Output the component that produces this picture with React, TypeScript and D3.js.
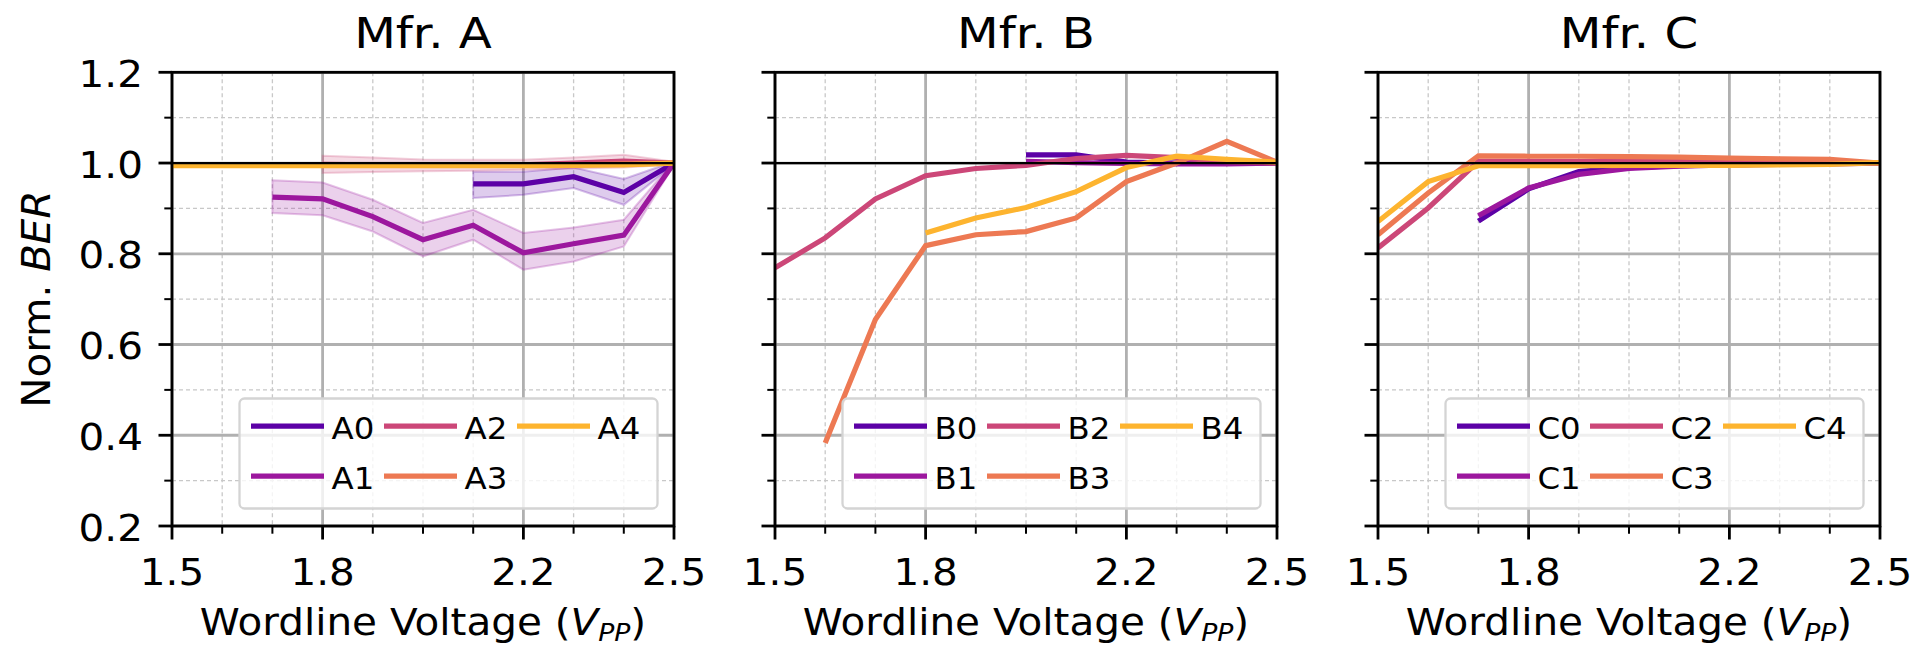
import React from 'react';
import * as d3 from 'd3';

// ---------- data ----------
const volts = [1.5, 1.6, 1.7, 1.8, 1.9, 2.0, 2.1, 2.2, 2.3, 2.4, 2.5];
const majorX = [1.5, 1.8, 2.2, 2.5];
const xTickLabels = ['1.5', '1.8', '2.2', '2.5'];
const minorX = [1.6, 1.7, 1.9, 2.0, 2.1, 2.3, 2.4];
const majorY = [0.2, 0.4, 0.6, 0.8, 1.0, 1.2];
const yTickLabels = ['0.2', '0.4', '0.6', '0.8', '1.0', '1.2'];
const minorY = [0.3, 0.5, 0.7, 0.9, 1.1];
const panelTitles = ['Mfr. A', 'Mfr. B', 'Mfr. C'];
const namesA = ['A0', 'A1', 'A2', 'A3', 'A4'];
const namesB = ['B0', 'B1', 'B2', 'B3', 'B4'];
const namesC = ['C0', 'C1', 'C2', 'C3', 'C4'];

type V = number | null;
const A0: V[] = [null, null, null, null, null, null, 0.954, 0.954, 0.970, 0.935, 1.0];
const A1: V[] = [null, null, 0.925, 0.921, 0.882, 0.831, 0.863, 0.802, 0.822, 0.841, 1.0];
const A2: V[] = [null, null, null, 0.997, 0.996, 0.995, 0.995, 0.996, 1.0, 1.004, 1.0];
const A3: V[] = [0.995, 0.995, 0.995, 0.995, 0.995, 0.995, 0.995, 0.995, 0.996, 0.998, 1.0];
const A4: V[] = [0.994, 0.994, 0.994, 0.994, 0.994, 0.994, 0.994, 0.994, 0.995, 0.996, 1.0];

const A0lo: V[] = [null, null, null, null, null, null, 0.923, 0.930, 0.945, 0.908, 0.997];
const A0hi: V[] = [null, null, null, null, null, null, 0.981, 0.981, 0.990, 0.965, 1.003];
const A1lo: V[] = [null, null, 0.890, 0.885, 0.849, 0.794, 0.831, 0.765, 0.783, 0.816, 0.996];
const A1hi: V[] = [null, null, 0.962, 0.957, 0.919, 0.868, 0.897, 0.846, 0.858, 0.875, 1.004];
const A2lo: V[] = [null, null, null, 0.978, 0.980, 0.982, 0.983, 0.985, 0.988, 0.990, 0.997];
const A2hi: V[] = [null, null, null, 1.016, 1.012, 1.008, 1.007, 1.007, 1.012, 1.018, 1.003];

const B0: V[] = [null, null, null, null, null, 1.018, 1.018, 1.002, 1.0, 1.0, 1.0];
const B1: V[] = [null, null, null, null, null, 1.004, 1.001, 0.999, 0.998, 0.998, 1.0];
const B2: V[] = [0.769, 0.835, 0.921, 0.972, 0.988, 0.995, 1.010, 1.017, 1.012, 1.003, 1.0];
const B3: V[] = [null, 0.383, 0.655, 0.818, 0.842, 0.849, 0.879, 0.959, 1.0, 1.048, 1.002];
const B4: V[] = [null, null, null, 0.846, 0.879, 0.902, 0.937, 0.990, 1.015, 1.008, 1.002];

const C0: V[] = [null, null, 0.872, 0.943, 0.981, 0.990, 0.994, 0.996, 0.998, 0.999, 1.0];
const C1: V[] = [null, null, 0.884, 0.945, 0.975, 0.988, 0.993, 0.996, 0.997, 0.998, 1.0];
const C2: V[] = [0.813, 0.901, 1.004, 1.004, 1.003, 1.003, 1.003, 1.003, 1.002, 1.002, 1.0];
const C3: V[] = [0.842, 0.934, 1.016, 1.015, 1.015, 1.014, 1.013, 1.011, 1.009, 1.008, 1.0];
const C4: V[] = [0.871, 0.959, 0.994, 0.994, 0.994, 0.995, 0.995, 0.995, 0.996, 0.997, 1.001];

type Band = { idx: number; lo: V[]; hi: V[] };
const panels = [
  { title: panelTitles[0], names: namesA, series: [A0, A1, A2, A3, A4],
    bands: [{ idx: 0, lo: A0lo, hi: A0hi }, { idx: 1, lo: A1lo, hi: A1hi }, { idx: 2, lo: A2lo, hi: A2hi }] as Band[] },
  { title: panelTitles[1], names: namesB, series: [B0, B1, B2, B3, B4], bands: [] as Band[] },
  { title: panelTitles[2], names: namesC, series: [C0, C1, C2, C3, C4], bands: [] as Band[] },
];

// ---------- layout ----------
const W = 1915, H = 648;
const FONT = 'DejaVu Sans';
const SX = 1.11; // horizontal stretch of the reference glyphs
const plotTop = 72.3, plotBottom = 526, plotW = 502, firstLeft = 172, step = 603;
const colors = [1, 2, 3, 4, 5].map((k) => d3.interpolatePlasma(k / 6));

const y = d3.scaleLinear().domain([0.2, 1.2]).range([plotBottom, plotTop]);

function T({ x, y: yy, size, anchor = 'start', sx = SX, children }: { x: number; y: number; size: number; anchor?: string; sx?: number; children: React.ReactNode }) {
  return (
    <text transform={`translate(${x},${yy}) scale(${sx},1)`} textAnchor={anchor as any} fontFamily={FONT} fontSize={size} fill="#000">
      {children}
    </text>
  );
}

function Panel({ p, i }: { p: typeof panels[number]; i: number }) {
  const left = firstLeft + i * step;
  const right = left + plotW;
  const x = d3.scaleLinear().domain([1.5, 2.5]).range([left, right]);
  const mkLine = (vals: V[]) => {
    const pts = vals.map((v, j) => ({ v, j })).filter((d) => d.v !== null) as { v: number; j: number }[];
    return d3.line<{ v: number; j: number }>().x((d) => x(volts[d.j])).y((d) => y(d.v))(pts) || '';
  };
  const mkArea = (b: Band) => {
    const pts = b.lo.map((v, j) => ({ lo: v, hi: b.hi[j], j })).filter((d) => d.lo !== null) as { lo: number; hi: number; j: number }[];
    return d3.area<{ lo: number; hi: number; j: number }>().x((d) => x(volts[d.j])).y0((d) => y(d.lo)).y1((d) => y(d.hi))(pts) || '';
  };
  const cx = (left + right) / 2;
  const legW = 418, legH = 110;
  const legRight = right - 16.5;
  const legLeft = legRight - legW;
  const legTop = plotBottom - 17.5 - legH;
  const clipId = `clip${i}`;
  return (
    <g>
      <defs>
        <clipPath id={clipId}>
          <rect x={left} y={plotTop} width={plotW} height={plotBottom - plotTop} />
        </clipPath>
      </defs>
      {minorX.map((v) => (
        <line key={'mx' + v} x1={x(v)} x2={x(v)} y1={plotTop} y2={plotBottom} stroke="#c8c8c8" strokeWidth={1.3} strokeDasharray="4,3" />
      ))}
      {minorY.map((v) => (
        <line key={'my' + v} x1={left} x2={right} y1={y(v)} y2={y(v)} stroke="#c8c8c8" strokeWidth={1.3} strokeDasharray="4,3" />
      ))}
      {majorX.map((v) => (
        <line key={'Mx' + v} x1={x(v)} x2={x(v)} y1={plotTop} y2={plotBottom} stroke="#b0b0b0" strokeWidth={2.8} />
      ))}
      {majorY.map((v) => (
        <line key={'My' + v} x1={left} x2={right} y1={y(v)} y2={y(v)} stroke="#b0b0b0" strokeWidth={2.8} />
      ))}
      <g clipPath={`url(#${clipId})`}>
        {p.bands.map((b) => (
          <path key={'b' + b.idx} d={mkArea(b)} fill={colors[b.idx]} fillOpacity={0.2} stroke={colors[b.idx]} strokeOpacity={0.25} strokeWidth={2} />
        ))}
        {p.series.map((s, k) => (
          <path key={'s' + k} d={mkLine(s)} fill="none" stroke={colors[k]} strokeWidth={5.2} strokeLinejoin="miter" />
        ))}
        <line x1={left} x2={right} y1={y(1.0)} y2={y(1.0)} stroke="#000" strokeWidth={2.2} />
      </g>
      <rect x={legLeft} y={legTop} width={legW} height={legH} rx={5} ry={5} fill="#ffffff" fillOpacity={0.8} stroke="#d4d4d4" strokeWidth={2.3} />
      {p.names.map((n, k) => {
        const col = Math.floor(k / 2);
        const row = k % 2;
        const lx = legLeft + 11.5 + col * 133;
        const ly = legTop + 27.7 + row * 50;
        return (
          <g key={'lg' + n}>
            <line x1={lx} x2={lx + 73} y1={ly} y2={ly} stroke={colors[k]} strokeWidth={5.2} />
            <T x={lx + 80.5} y={ly + 12.3} size={30} sx={1.08}>{n}</T>
          </g>
        );
      })}
      <rect x={left} y={plotTop} width={plotW} height={plotBottom - plotTop} fill="none" stroke="#000" strokeWidth={2.8} />
      {majorX.map((v) => (
        <line key={'tx' + v} x1={x(v)} x2={x(v)} y1={plotBottom} y2={plotBottom + 13.5} stroke="#000" strokeWidth={2.8} />
      ))}
      {minorX.map((v) => (
        <line key={'tmx' + v} x1={x(v)} x2={x(v)} y1={plotBottom} y2={plotBottom + 7.7} stroke="#000" strokeWidth={2} />
      ))}
      {majorY.map((v) => (
        <line key={'ty' + v} x1={left - 13.5} x2={left} y1={y(v)} y2={y(v)} stroke="#000" strokeWidth={2.8} />
      ))}
      {minorY.map((v) => (
        <line key={'tmy' + v} x1={left - 7.7} x2={left} y1={y(v)} y2={y(v)} stroke="#000" strokeWidth={2} />
      ))}
      {majorX.map((v, k) => (
        <T key={'lx' + v} x={x(v)} y={585} size={36.5} anchor="middle">{xTickLabels[k]}</T>
      ))}
      {i === 0 && majorY.map((v, k) => (
        <T key={'ly' + v} x={143} y={y(v) + 14.5} size={36.5} anchor="end">{yTickLabels[k]}</T>
      ))}
      <T x={cx} y={48.3} size={43.5} anchor="middle">{p.title}</T>
      <T x={cx} y={635} size={36.5} anchor="middle">
        Wordline Voltage (<tspan fontStyle="italic">V</tspan>
        <tspan fontStyle="italic" fontSize={24} dy={6}>PP</tspan>
        <tspan dy={-6}>)</tspan>
      </T>
    </g>
  );
}

export default function App() {
  return (
    <svg width={W} height={H} viewBox={`0 0 ${W} ${H}`} style={{ position: 'absolute', left: 0, top: 0, background: '#fff' }}>
      <rect x={0} y={0} width={W} height={H} fill="#fff" />
      {panels.map((p, i) => (
        <Panel key={i} p={p} i={i} />
      ))}
      <text transform={`translate(50,${(plotTop + plotBottom) / 2}) rotate(-90) scale(1.05,1)`} textAnchor="middle" fontFamily={FONT} fontSize={38.5} fill="#000">
        Norm. <tspan fontStyle="italic">BER</tspan>
      </text>
    </svg>
  );
}
